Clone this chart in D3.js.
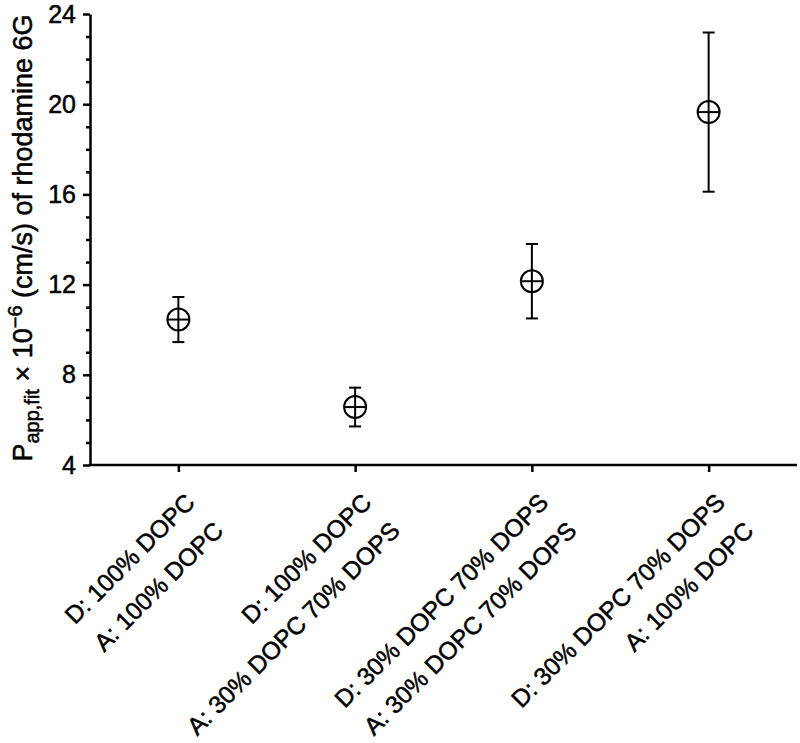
<!DOCTYPE html>
<html lang="en">
<head>
    <meta charset="UTF-8">
    <title>Papp rhodamine 6G</title>
    <style>
        body {
            margin: 0;
            background: #fff;
        }
        text {
            font-family: "Liberation Sans", Arial, sans-serif;
            fill: #000;
            stroke: #000;
            stroke-width: 0.5px;
        }
    </style>
</head>
<body>
    <svg id="chart"></svg>
    <script src="https://cdnjs.cloudflare.com/ajax/libs/d3/7.9.0/d3.min.js"></script>
    <script>
        // data
        const donorLabels = ["D: 100% DOPC", "D: 100% DOPC", "D: 30% DOPC 70% DOPS", "D: 30% DOPC 70% DOPS"];
        const acceptorLabels = ["A: 100% DOPC", "A: 30% DOPC 70% DOPS", "A: 30% DOPC 70% DOPS", "A: 100% DOPC"];
        const means = [10.45, 6.57, 12.15, 19.65];
        const errors = [1.0, 0.86, 1.65, 3.53];
        const yTicks = [4, 8, 12, 16, 20, 24];

        const w = 800;
        const h = 743;
        const padLeft = 90, padRight = 797, padTop = 14, padBottom = 465;

        const svg = d3.select("#chart")
            .attr("width", w)
            .attr("height", h);

        const cats = donorLabels.map((d, i) => i);

        const x = d3.scalePoint()
            .domain(cats)
            .range([padLeft, padRight])
            .padding(0.5);

        const y = d3.scaleLinear()
            .domain([4, 24])
            .range([padBottom, padTop]);

        // y axis: major + minor ticks
        const yAxis = svg.append("g")
            .attr("transform", "translate(" + padLeft + ",0)")
            .call(d3.axisLeft(y).tickValues(yTicks).tickSize(7).tickPadding(7).tickSizeOuter(0));

        svg.append("g")
            .attr("transform", "translate(" + padLeft + ",0)")
            .call(d3.axisLeft(y).tickValues(d3.range(4, 25, 1).filter(v => v % 4 !== 0)).tickSize(4).tickFormat("").tickSizeOuter(0))
            .call(g => g.select(".domain").remove());

        const xAxis = svg.append("g")
            .attr("transform", "translate(0," + padBottom + ")")
            .call(d3.axisBottom(x).tickSize(7).tickFormat("").tickSizeOuter(0));

        svg.selectAll(".domain, .tick line")
            .attr("stroke", "#000")
            .attr("stroke-width", 2.5);
        // extend x domain to meet the y axis at the corner
        xAxis.select(".domain").attr("d", "M" + (padLeft - 1.25) + ",0H" + padRight);

        yAxis.selectAll(".tick text")
            .attr("font-size", 25);

        // category labels, rotated
        const labels = svg.append("g")
            .selectAll("text")
            .data(cats)
            .enter()
            .append("text")
            .attr("font-size", 24.5)
            .attr("text-anchor", "end")
            .attr("transform", d => "translate(" + (x(d) + 18) + "," + (padBottom + 39) + ") rotate(-45)");

        labels.append("tspan")
            .attr("x", 0)
            .attr("dy", 0)
            .text(d => donorLabels[d]);

        labels.append("tspan")
            .attr("x", 0)
            .attr("dy", 40)
            .text(d => acceptorLabels[d]);

        // y axis title
        const title = svg.append("text")
            .attr("font-size", 27)
            .attr("text-anchor", "middle")
            .attr("transform", "translate(32,238) rotate(-90)");
        title.append("tspan").text("P");
        title.append("tspan").attr("font-size", 20).attr("dy", 7).text("app,fit");
        title.append("tspan").attr("dy", -7).text(" \u00d7 10");
        title.append("tspan").attr("font-size", 20).attr("dy", -10).text("\u22126");
        title.append("tspan").attr("dy", 10).text(" (cm/s) of rhodamine 6G");

        // error bars
        const pts = svg.append("g")
            .selectAll("g")
            .data(cats)
            .enter()
            .append("g");

        pts.append("line")
            .attr("x1", d => x(d))
            .attr("x2", d => x(d))
            .attr("y1", d => y(means[d] + errors[d]))
            .attr("y2", d => y(means[d] - errors[d]))
            .attr("stroke", "#000")
            .attr("stroke-width", 2);

        [1, -1].forEach(s => {
            pts.append("line")
                .attr("x1", d => x(d) - 6)
                .attr("x2", d => x(d) + 6)
                .attr("y1", d => y(means[d] + s * errors[d]))
                .attr("y2", d => y(means[d] + s * errors[d]))
                .attr("stroke", "#000")
                .attr("stroke-width", 2);
        });

        pts.append("circle")
            .attr("cx", d => x(d))
            .attr("cy", d => y(means[d]))
            .attr("r", 11)
            .attr("fill", "none")
            .attr("stroke", "#000")
            .attr("stroke-width", 2);

        pts.append("line")
            .attr("x1", d => x(d) - 11)
            .attr("x2", d => x(d) + 11)
            .attr("y1", d => y(means[d]))
            .attr("y2", d => y(means[d]))
            .attr("stroke", "#000")
            .attr("stroke-width", 2);
    </script>
</body>
</html>
